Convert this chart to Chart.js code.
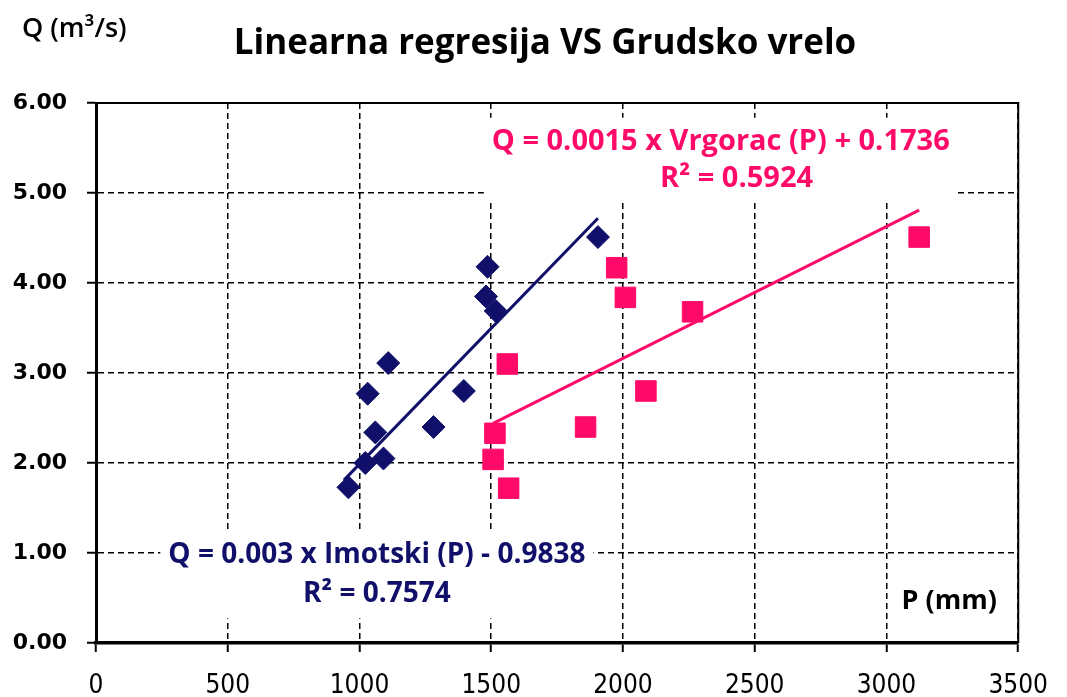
<!DOCTYPE html>
<html>
<head>
<meta charset="utf-8">
<script src="https://cdn.jsdelivr.net/npm/chart.js@4/dist/chart.umd.min.js"></script>
<style>
  html, body { margin: 0; padding: 0; background: #fff; }
  #wrap { width: 1067px; height: 697px; }
</style>
</head>
<body>
<div id="wrap"><canvas id="c" width="1067" height="697"></canvas></div>
<script>
// Grudsko vrelo discharge Q (m3/s) against precipitation P (mm)
const qValues = [1.73, 2.00, 2.05, 2.34, 2.77, 3.11, 2.40, 2.80, 4.18, 3.85, 3.69, 4.51];
const imotskiP = [958, 1022, 1091, 1060, 1031, 1109, 1281, 1396, 1486, 1480, 1517, 1905];

const vrgoracQ = [1.72, 2.04, 2.33, 2.40, 2.80, 3.10, 3.68, 3.84, 4.17, 4.51];
const vrgoracP = [1566, 1507, 1514, 1858, 2087, 1561, 2264, 2009, 1976, 3124];

// trend line ends
const imotskiTrendP = [941, 1905];
const imotskiTrendQ = [1.81, 4.72];
const vrgoracTrendP = [1507, 3124];
const vrgoracTrendQ = [2.44, 4.81];

const xTicks = [0, 500, 1000, 1500, 2000, 2500, 3000, 3500];
const yTicks = [0, 1, 2, 3, 4, 5, 6];

const titleText = 'Linearna regresija VS Grudsko vrelo';
const yTitle = 'Q (m³/s)';

const blue = '#10106b';
const pink = '#ff0a68';

const pts = (xs, ys) => xs.map((x, i) => ({ x: x, y: ys[i] }));

// text boxes, anchored in data units
const notes = [
    { color: pink, size: 29, lines: [
        { text: 'Q = 0.0015 x Vrgorac (P) + 0.1736', p: 2371, q: 5.57 },
        { text: 'R² = 0.5924', p: 2431, q: 5.16 }
    ], box: true },
    { color: blue, size: 28, lines: [
        { text: 'Q = 0.003 x Imotski (P) - 0.9838', p: 1066, q: 0.98 },
        { text: 'R² = 0.7574', p: 1066, q: 0.54 }
    ], box: true },
    { color: '#000', size: 27, lines: [ { text: 'P (mm)', p: 3238, q: 0.46 } ], box: false }
];

const notePlugin = {
    id: 'notes',
    beforeDatasetsDraw(chart) {
        const ctx = chart.ctx;
        const xs = chart.scales.x, ys = chart.scales.y;
        ctx.save();
        ctx.textAlign = 'center';
        ctx.textBaseline = 'middle';
        notes.forEach(n => {
            ctx.font = 'bold ' + n.size + 'px "Open Sans"';
            if (n.box) {
                let l = Infinity, r = -Infinity, t = Infinity, b = -Infinity;
                n.lines.forEach(ln => {
                    const cx = xs.getPixelForValue(ln.p), cy = ys.getPixelForValue(ln.q);
                    const w = ctx.measureText(ln.text).width;
                    l = Math.min(l, cx - w / 2); r = Math.max(r, cx + w / 2);
                    t = Math.min(t, cy - 14); b = Math.max(b, cy + 14);
                });
                ctx.fillStyle = '#fff';
                ctx.fillRect(l - 8, t - 10, r - l + 16, b - t + 20);
            }
            ctx.fillStyle = n.color;
            n.lines.forEach(ln => {
                ctx.fillText(ln.text, xs.getPixelForValue(ln.p), ys.getPixelForValue(ln.q));
            });
        });
        ctx.restore();
    },
    afterDraw(chart) {
        const ctx = chart.ctx;
        const a = chart.chartArea;
        ctx.save();
        // top and right frame
        ctx.strokeStyle = '#000';
        ctx.lineWidth = 2;
        ctx.beginPath();
        ctx.moveTo(a.left, a.top);
        ctx.lineTo(a.right, a.top);
        ctx.lineTo(a.right, a.bottom);
        ctx.stroke();
        ctx.fillStyle = '#000';
        ctx.textBaseline = 'middle';
        // title
        ctx.font = 'bold 35px "Open Sans"';
        ctx.textAlign = 'center';
        ctx.fillText(titleText, 545, 44);
        // y axis title
        ctx.font = '600 27px "Open Sans"';
        ctx.textAlign = 'left';
        ctx.fillText(yTitle, 22, 29);
        ctx.restore();
    }
};

new Chart(document.getElementById('c').getContext('2d'), {
    type: 'scatter',
    data: {
        datasets: [
            {
                label: 'Imotski trend',
                data: pts(imotskiTrendP, imotskiTrendQ),
                showLine: true,
                borderColor: blue,
                borderWidth: 3,
                pointRadius: 0
            },
            {
                label: 'Vrgorac trend',
                data: pts(vrgoracTrendP, vrgoracTrendQ),
                showLine: true,
                borderColor: pink,
                borderWidth: 3,
                pointRadius: 0
            },
            {
                label: 'Imotski',
                data: pts(imotskiP, qValues),
                pointStyle: 'rectRot',
                pointRadius: 11.5,
                backgroundColor: blue,
                borderColor: blue,
                borderWidth: 1
            },
            {
                label: 'Vrgorac',
                data: pts(vrgoracP, vrgoracQ),
                pointStyle: 'rect',
                pointRadius: 14.5,
                backgroundColor: pink,
                borderColor: pink,
                borderWidth: 1
            }
        ]
    },
    options: {
        responsive: false,
        animation: false,
        layout: { padding: { left: 0, right: 35, top: 103, bottom: 0 } },
        plugins: {
            legend: { display: false },
            tooltip: { enabled: false },
            title: { display: false }
        },
        scales: {
            x: {
                type: 'linear',
                min: 0,
                max: 3500,
                afterBuildTicks: s => { s.ticks = xTicks.map(v => ({ value: v })); },
                afterFit: s => { s.height = 54; },
                ticks: {
                    color: '#000',
                    padding: 19,
                    font: { family: '"DejaVu Sans Condensed", "DejaVu Sans"', size: 26 },
                    callback: v => String(v)
                },
                grid: { color: '#000', lineWidth: 1.5, tickLength: 9, tickColor: '#000', tickWidth: 2 },
                border: { display: true, color: '#000', width: 3.5, dash: [6, 4] }
            },
            y: {
                min: 0,
                max: 6,
                afterBuildTicks: s => { s.ticks = yTicks.map(v => ({ value: v })); },
                afterFit: s => { s.width = 96; },
                ticks: {
                    color: '#000',
                    padding: 20,
                    font: { family: '"DejaVu Sans"', size: 22, weight: 'bold' },
                    callback: v => v.toFixed(2)
                },
                grid: { color: '#000', lineWidth: 1.5, tickLength: 9, tickColor: '#000', tickWidth: 2 },
                border: { display: true, color: '#000', width: 3, dash: [6, 4] }
            }
        }
    },
    plugins: [notePlugin]
});
</script>
</body>
</html>
